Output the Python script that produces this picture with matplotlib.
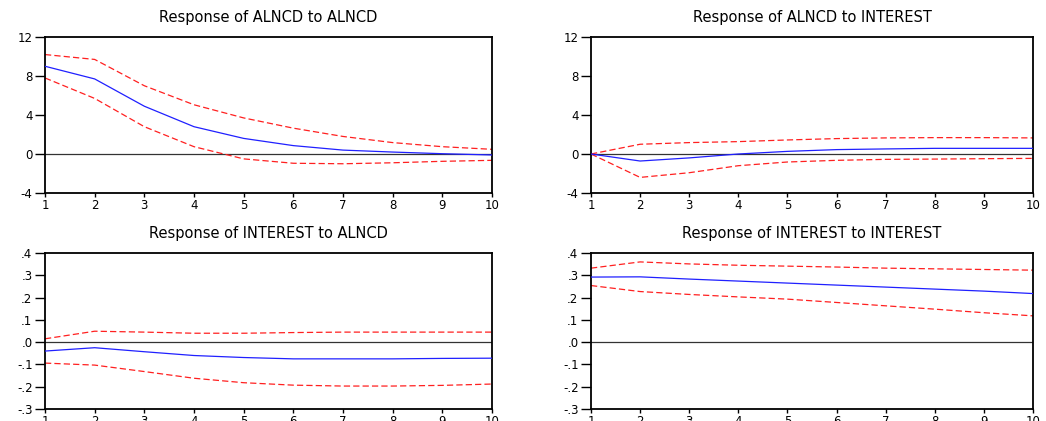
import matplotlib
matplotlib.use("Agg")
import matplotlib.pyplot as plt
import numpy as np

periods = [1, 2, 3, 4, 5, 6, 7, 8, 9, 10]

titles = ["Response of ALNCD to ALNCD", "Response of ALNCD to INTEREST",
          "Response of INTEREST to ALNCD", "Response of INTEREST to INTEREST"]

alncd_alncd = [9.0, 7.7, 4.9, 2.8, 1.6, 0.86, 0.4, 0.2, 0.03, -0.1]
alncd_alncd_hi = [10.2, 9.7, 7.0, 5.05, 3.7, 2.65, 1.8, 1.17, 0.75, 0.48]
alncd_alncd_lo = [7.8, 5.7, 2.8, 0.75, -0.5, -0.95, -1.0, -0.9, -0.75, -0.65]

alncd_int = [0.0, -0.72, -0.4, 0.0, 0.27, 0.45, 0.52, 0.58, 0.58, 0.58]
alncd_int_hi = [0.0, 1.0, 1.17, 1.27, 1.44, 1.58, 1.65, 1.68, 1.68, 1.65]
alncd_int_lo = [0.0, -2.4, -1.92, -1.2, -0.82, -0.65, -0.55, -0.52, -0.48, -0.45]

int_alncd = [-0.04, -0.025, -0.043, -0.06, -0.069, -0.075, -0.075, -0.075, -0.073, -0.072]
int_alncd_hi = [0.015, 0.049, 0.045, 0.04, 0.04, 0.043, 0.045, 0.045, 0.045, 0.045]
int_alncd_lo = [-0.094, -0.103, -0.132, -0.162, -0.182, -0.193, -0.197, -0.197, -0.194, -0.188]

int_int = [0.292, 0.293, 0.283, 0.274, 0.265, 0.256, 0.247, 0.238, 0.229, 0.218]
int_int_hi = [0.332, 0.36, 0.351, 0.345, 0.341, 0.337, 0.332, 0.329, 0.326, 0.323]
int_int_lo = [0.254, 0.227, 0.214, 0.203, 0.193, 0.178, 0.163, 0.148, 0.132, 0.118]

top_yticks = [-4, 0, 4, 8, 12]
top_ylabels = ["-4", "0", "4", "8", "12"]
bot_yticks = [-0.3, -0.2, -0.1, 0.0, 0.1, 0.2, 0.3, 0.4]
bot_ylabels = ["-.3", "-.2", "-.1", ".0", ".1", ".2", ".3", ".4"]

series = [(alncd_alncd, alncd_alncd_hi, alncd_alncd_lo),
          (alncd_int, alncd_int_hi, alncd_int_lo),
          (int_alncd, int_alncd_hi, int_alncd_lo),
          (int_int, int_int_hi, int_int_lo)]

plt.rcParams['font.family'] = ['DejaVu Sans']

W, H = 1046, 421
fig = plt.figure(figsize=(W / 100, H / 100), dpi=100)

boxes = [(45, 37, 492, 193), (591, 37, 1033, 193),
         (45, 253, 492, 409), (591, 253, 1033, 409)]

for i, (box, title, (mid, hi, lo)) in enumerate(zip(boxes, titles, series)):
    x0, y0, x1, y1 = box
    ax = fig.add_axes([x0 / W, 1 - y1 / H, (x1 - x0) / W, (y1 - y0) / H])
    ax.axhline(0, color='#333333', lw=0.9, zorder=1)
    ax.plot(periods, hi, color='#ff2020', lw=0.9, dashes=(5, 2.5), zorder=2)
    ax.plot(periods, lo, color='#ff2020', lw=0.9, dashes=(5, 2.5), zorder=2)
    ax.plot(periods, mid, color='#2020ff', lw=0.9, zorder=3)
    ax.set_xlim(1, 10)
    ax.set_xticks(periods)
    ax.set_xticklabels([str(p) for p in periods])
    if i < 2:
        ax.set_ylim(-4, 12)
        ax.set_yticks(top_yticks)
        ax.set_yticklabels(top_ylabels)
    else:
        ax.set_ylim(-0.3, 0.4)
        ax.set_yticks(bot_yticks)
        ax.set_yticklabels(bot_ylabels)
    for s in ax.spines.values():
        s.set_linewidth(1.3)
        s.set_color('black')
    ax.tick_params(axis='y', direction='out', length=7, width=1, labelsize=8.5, pad=2)
    ax.tick_params(axis='x', direction='out', length=3, width=1, labelsize=8.5, pad=1)
    ax.set_title(title, fontsize=10.5, pad=11)

fig.savefig("out.png", dpi=100)
